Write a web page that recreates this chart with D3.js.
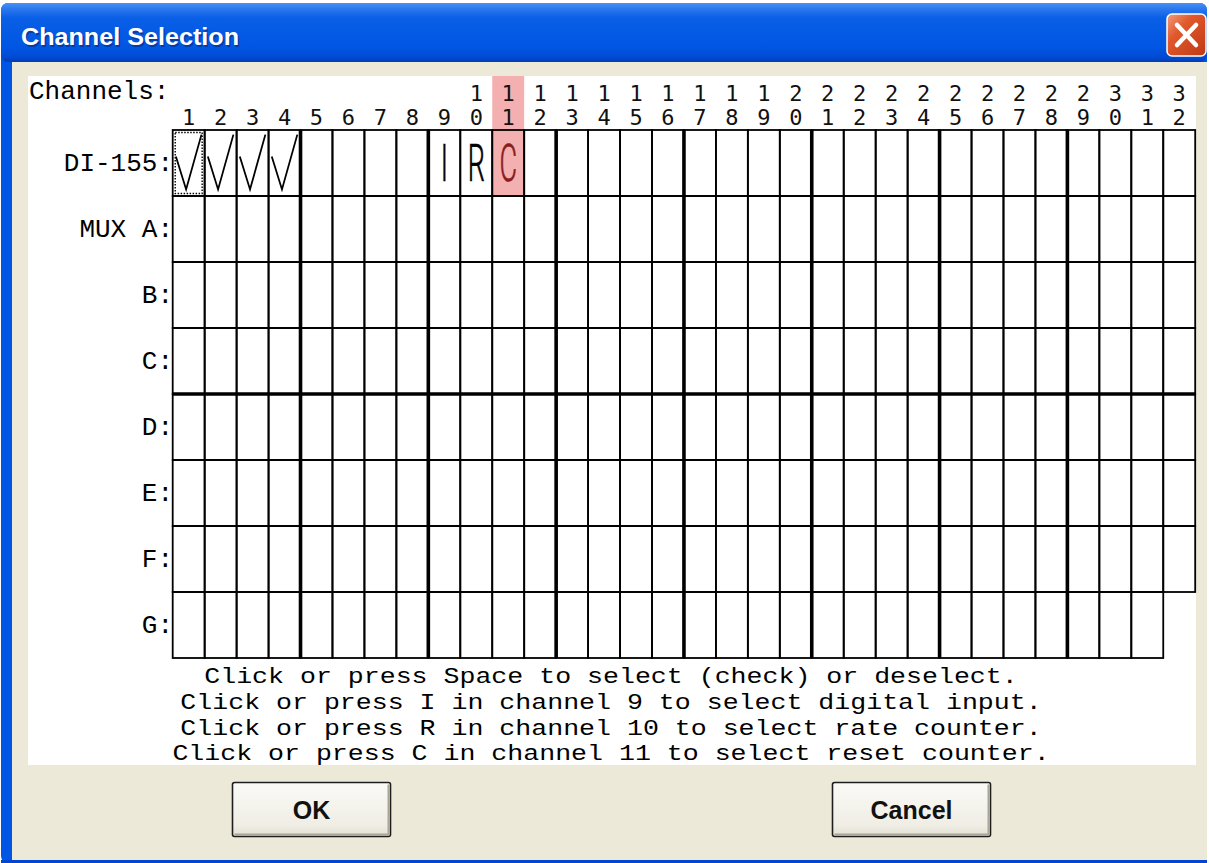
<!DOCTYPE html>
<html>
<head>
<meta charset="utf-8">
<script src="https://cdn.jsdelivr.net/npm/d3@7"></script>
<style>
  html, body { margin: 0; padding: 0; background: #fff; }
  svg { display: block; }
</style>
</head>
<body>
<div id="main-container"></div>
<script>
// Data
const CHANNELS = ['1', '2', '3', '4', '5', '6', '7', '8', '9', '10', '11', '12', '13', '14', '15', '16',
    '17', '18', '19', '20', '21', '22', '23', '24', '25', '26', '27', '28', '29', '30', '31', '32'];
const ROWS = ['DI-155', 'MUX A', 'B', 'C', 'D', 'E', 'F', 'G'];
const ROW_CHANNEL_COUNT = [32, 32, 32, 32, 32, 32, 32, 31];   // row G stops at channel 31
const CHECKED = ['1', '2', '3', '4'];                           // checked in DI-155 row
const MODES = [
    { channel: '9', letter: 'I' },
    { channel: '10', letter: 'R' },
    { channel: '11', letter: 'C', active: true }
];
const GROUP = 4; // heavy line every 4 channels / rows
const HELP_LINES = [
    'Click or press Space to select (check) or deselect.',
    'Click or press I in channel 9 to select digital input.',
    'Click or press R in channel 10 to select rate counter.',
    'Click or press C in channel 11 to select reset counter.'
];
const BUTTONS = ['OK', 'Cancel'];

const W = 1209, H = 863;
const GRID = { left: 172.7, right: 1195.2, top: 130, bottom: 658 };
const MONO = '"Liberation Mono", "DejaVu Sans Mono", monospace';

const SVG = d3.select('#main-container').append('svg')
    .attr('width', W)
    .attr('height', H);

const defs = SVG.append('defs');
const titleGrad = defs.append('linearGradient')
    .attr('id', 'title-grad').attr('x1', 0).attr('y1', 0).attr('x2', 0).attr('y2', 1);
[[0, '#4a90f5'], [0.1, '#2b79ef'], [0.25, '#0a5fe6'], [0.75, '#0056e3'], [0.92, '#004ad3'], [1, '#003cb5']]
    .forEach(([o, c]) => titleGrad.append('stop').attr('offset', o).attr('stop-color', c));
const closeGrad = defs.append('linearGradient')
    .attr('id', 'close-grad').attr('x1', 0).attr('y1', 0).attr('x2', 1).attr('y2', 1);
[[0, '#f0a080'], [0.35, '#e0582c'], [1, '#c03812']]
    .forEach(([o, c]) => closeGrad.append('stop').attr('offset', o).attr('stop-color', c));
const btnGrad = defs.append('linearGradient')
    .attr('id', 'btn-grad').attr('x1', 0).attr('y1', 0).attr('x2', 0).attr('y2', 1);
[[0, '#fbfaf6'], [0.8, '#efede4'], [1, '#e2dfd2']]
    .forEach(([o, c]) => btnGrad.append('stop').attr('offset', o).attr('stop-color', c));

// Window frame
SVG.append('rect').attr('x', 1).attr('y', 3).attr('width', 1206).attr('height', 860)
    .attr('rx', 7).attr('fill', '#0055e5');
SVG.append('rect').attr('x', 1).attr('y', 3).attr('width', 1206).attr('height', 59)
    .attr('rx', 7).attr('fill', 'url(#title-grad)');
SVG.append('rect').attr('x', 12).attr('y', 62).attr('width', 1195).attr('height', 798)
    .attr('fill', '#ece9d8');
SVG.append('rect').attr('x', 1).attr('y', 860).attr('width', 1206).attr('height', 3)
    .attr('fill', '#0046d0');

SVG.append('text')
    .attr('x', 21).attr('y', 45)
    .attr('fill', '#0a2a80').attr('opacity', 0.6)
    .style('font', 'bold 24px "Liberation Sans", Arial, sans-serif')
    .attr('textLength', 218).attr('lengthAdjust', 'spacingAndGlyphs')
    .text('Channel Selection')
    .attr('transform', 'translate(1.5,1.5)');
SVG.append('text')
    .attr('x', 21).attr('y', 45)
    .attr('fill', '#fff')
    .style('font', 'bold 24px "Liberation Sans", Arial, sans-serif')
    .attr('textLength', 218).attr('lengthAdjust', 'spacingAndGlyphs')
    .text('Channel Selection');

// Close button
const CLOSE = SVG.append('g').attr('transform', 'translate(1167,14)');
CLOSE.append('rect').attr('width', 39).attr('height', 42).attr('rx', 5)
    .attr('fill', 'url(#close-grad)').attr('stroke', '#fff').attr('stroke-width', 1.5);
CLOSE.append('path')
    .attr('d', 'M10,11 L29,31 M29,11 L10,31')
    .attr('stroke', '#fff').attr('stroke-width', 4.5).attr('stroke-linecap', 'round');

// White panel
SVG.append('rect').attr('x', 28).attr('y', 76).attr('width', 1168).attr('height', 689)
    .attr('fill', '#fff');

// Scales
const x = d3.scaleBand().domain(CHANNELS).range([GRID.left, GRID.right]);
const y = d3.scaleBand().domain(ROWS).range([GRID.top, GRID.bottom]);
const bw = x.bandwidth(), bh = y.bandwidth();

// Active column highlight
MODES.filter(d => d.active).forEach(d => {
    SVG.append('rect')
        .attr('x', x(d.channel)).attr('y', 76)
        .attr('width', bw).attr('height', y(ROWS[0]) + bh - 76)
        .attr('fill', '#f4b0b0');
});

// Header
SVG.append('text')
    .attr('x', 29).attr('y', 99)
    .style('font', `26px ${MONO}`)
    .text('Channels:');

const HEADER = SVG.append('g')
    .style('font', '22px "DejaVu Sans Mono", monospace')
    .attr('fill', '#111')
    .attr('text-anchor', 'middle');
HEADER.selectAll('text.tens')
    .data(CHANNELS.filter(c => c.length > 1))
    .join('text')
    .attr('class', 'tens')
    .attr('x', d => x(d) + bw / 2)
    .attr('y', 101)
    .text(d => d[0]);
HEADER.selectAll('text.ones')
    .data(CHANNELS)
    .join('text')
    .attr('class', 'ones')
    .attr('x', d => x(d) + bw / 2)
    .attr('y', 125)
    .text(d => d[d.length - 1]);

// Row labels
SVG.append('g')
    .style('font', `26px ${MONO}`)
    .attr('text-anchor', 'end')
    .selectAll('text')
    .data(ROWS)
    .join('text')
    .attr('x', 173)
    .attr('y', d => y(d) + bh / 2 + 8)
    .text(d => d + ':');

// Cells
const cells = [];
ROWS.forEach((r, i) => CHANNELS.slice(0, ROW_CHANNEL_COUNT[i]).forEach(c => cells.push({ row: r, channel: c })));

SVG.append('g')
    .selectAll('rect')
    .data(cells)
    .join('rect')
    .attr('x', d => x(d.channel))
    .attr('y', d => y(d.row))
    .attr('width', bw)
    .attr('height', bh)
    .attr('fill', 'none')
    .attr('stroke', '#000')
    .attr('stroke-width', 1.8);

// Heavy group lines
const heavyCols = CHANNELS.filter((c, i) => (i + 1) % GROUP === 0 && i < CHANNELS.length - 1);
SVG.append('g')
    .selectAll('line')
    .data(heavyCols)
    .join('line')
    .attr('x1', d => x(d) + bw).attr('x2', d => x(d) + bw)
    .attr('y1', GRID.top).attr('y2', GRID.bottom)
    .attr('stroke', '#000').attr('stroke-width', 3.6);

const heavyRows = ROWS.filter((r, i) => (i + 1) % GROUP === 0 && i < ROWS.length - 1);
SVG.append('g')
    .selectAll('line')
    .data(heavyRows)
    .join('line')
    .attr('x1', GRID.left).attr('x2', GRID.right)
    .attr('y1', d => y(d) + bh).attr('y2', d => y(d) + bh)
    .attr('stroke', '#000').attr('stroke-width', 3.4);

// Check marks
SVG.append('g')
    .selectAll('path')
    .data(CHECKED)
    .join('path')
    .attr('d', d => {
        const x0 = x(d), y0 = y(ROWS[0]);
        return `M${x0 + bw * 0.1},${y0 + bh * 0.4} L${x0 + bw * 0.42},${y0 + bh * 0.9} L${x0 + bw * 0.9},${y0 + bh * 0.07}`;
    })
    .attr('fill', 'none')
    .attr('stroke', '#000')
    .attr('stroke-width', 1.8);

// Focus rectangle on first cell
SVG.append('rect')
    .attr('x', x(CHANNELS[0]) + 2.5).attr('y', y(ROWS[0]) + 2.5)
    .attr('width', bw - 5).attr('height', bh - 5)
    .attr('fill', 'none').attr('stroke', '#000')
    .attr('stroke-width', 1.4).attr('stroke-dasharray', '1.5,1.5');

// Mode letters
SVG.append('g')
    .selectAll('text')
    .data(MODES)
    .join('text')
    .attr('transform', d => `translate(${x(d.channel) + bw / 2},${y(ROWS[0]) + bh / 2 + 18}) scale(0.52,1)`)
    .attr('text-anchor', 'middle')
    .attr('fill', d => d.active ? '#8a1c1c' : '#000')
    .attr('stroke', d => d.active ? '#8a1c1c' : '#000')
    .attr('stroke-width', 0.7)
    .style('font', '300 52px Roboto, "DejaVu Sans", sans-serif')
    .text(d => d.letter);

// Help text (tight lines as in the dialog)
SVG.append('g')
    .style('font', `22.5px ${MONO}`)
    .attr('text-anchor', 'middle')
    .selectAll('text')
    .data(HELP_LINES)
    .join('text')
    .attr('x', 611)
    .attr('y', (d, i) => 683 + i * 25.8)
    .attr('textLength', d => d.length * 15.95)
    .attr('lengthAdjust', 'spacingAndGlyphs')
    .text(d => d);

// Buttons
const bx = d3.scaleOrdinal().domain(BUTTONS).range([232.5, 832.5]);
const BTN = SVG.append('g')
    .selectAll('g')
    .data(BUTTONS)
    .join('g')
    .attr('transform', d => `translate(${bx(d)},782.5)`);
BTN.append('rect')
    .attr('width', 158).attr('height', 54).attr('rx', 2)
    .attr('fill', 'url(#btn-grad)')
    .attr('stroke', '#1e1e1e').attr('stroke-width', 1.6);
BTN.append('path')
    .attr('d', 'M2,52 L156,52 L156,2')
    .attr('fill', 'none').attr('stroke', '#a9a695').attr('stroke-width', 2);
BTN.append('text')
    .attr('x', 79).attr('y', 36)
    .attr('text-anchor', 'middle')
    .style('font', 'bold 25px "Liberation Sans", Arial, sans-serif')
    .attr('fill', '#111')
    .text(d => d);
</script>
</body>
</html>
